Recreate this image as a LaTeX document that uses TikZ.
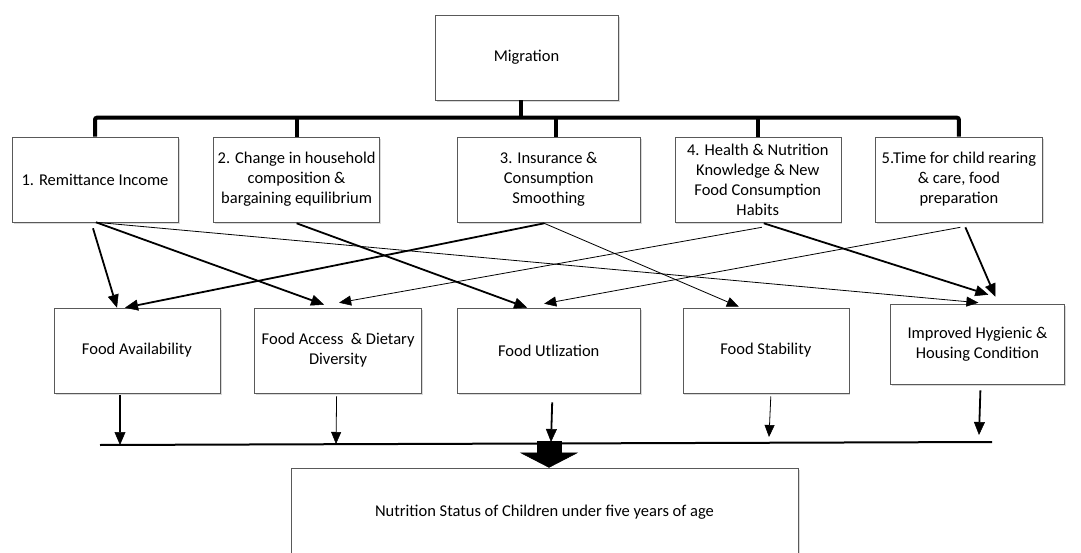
\documentclass[tikz,border=0pt]{standalone}
\usepackage{fontspec}
\setmainfont{Carlito}
\usetikzlibrary{positioning,calc,arrows.meta,shadows}

\tikzset{
  box/.style={draw=gray!70!black, line width=0.6pt, fill=white, align=center,
    minimum height=85pt, inner sep=1pt, font=\fontsize{16.5}{20}\selectfont,
    drop shadow={shadow xshift=1.5pt, shadow yshift=-2pt, opacity=0.3}},
  bar/.style={line width=4pt, rounded corners=2pt},
  busline/.style={line width=2pt},
  thinarrow/.style={line width=0.8pt, -{Triangle[length=12pt,width=10pt,line width=0.5pt]}},
  thickarrow/.style={line width=1.8pt, -{Triangle[length=13pt,width=11pt,line width=0.5pt]}},
  bigarrow/.style={line width=25pt, -{Triangle[length=15pt,width=58pt,line width=0.5pt]}},
}

\begin{document}
\begin{tikzpicture}[x=1pt, y=-1pt]
	\useasboundingbox (0,0) rectangle (1081,553);
	% Define nodes
	\node[box, minimum width=183pt] (mig) at (526.5,57.5) {Migration};
	\node[box, minimum width=166pt] (r1) at (95,179.5) {1. Remittance Income};
	\node[box, minimum width=166pt, right=35pt of r1] (r2) {2. Change in household\\composition \&\\bargaining equilibrium};
	\node[box, minimum width=183pt, right=77pt of r2] (r3) {3. Insurance \&\\Consumption\\Smoothing};
	\node[box, minimum width=166pt, right=34pt of r3] (r4) {4. Health \& Nutrition\\Knowledge \& New\\Food Consumption\\Habits};
	\node[box, minimum width=167pt, right=34pt of r4] (r5) {5.Time for child rearing\\\& care, food\\preparation};
	\node[box, minimum width=166pt] (fa) at (137,350.5) {Food Availability};
	\node[box, minimum width=167pt, right=34pt of fa] (fad) {Food Access~~\& Dietary\\Diversity};
	\node[box, minimum width=183pt, right=35pt of fad] (fu) {Food Utlization};
	\node[box, minimum width=166pt, right=42pt of fu] (fs) {Food Stability};
	\node[box, minimum width=174pt, minimum height=80pt, right=41pt of fs, yshift=6.5pt] (ih) {Improved Hygienic \&\\Housing Condition};
	\node[box, minimum width=507pt, minimum height=88pt] (nut) at (544.5,512) {Nutrition Status of Children under five years of age};
	% Bus points
	\coordinate (busL) at (100,445);
	\coordinate (busR) at (992,442);
	\coordinate (faB) at (120,445);
	\coordinate (fadB) at (336,444);
	\coordinate (fuB) at (551,442);
	\coordinate (fsB) at (769,437);
	\coordinate (ihB) at (979,435);
	\coordinate (hub) at (549,441);
	% Migration to channels
	\draw[bar] (r1.north) -- ++(0,-19) -| (r5.north);
	\draw[bar] ($(mig.south)+(-6,0)$) -- ++(0,18);
	\draw[bar] (r2.north) -- ++(0,-19);
	\draw[bar] ($(r3.north)+(7.5,0)$) -- ++(0,-19);
	\draw[bar] (r4.north) -- ++(0,-19);
	% Connect the nodes
	\draw[thickarrow] ($(r1.south)+(-2,6)$) -- ($(fa.north)+(-20,0)$);
	\draw[thickarrow] ($(r1.south)+(1,0)$) -- ($(fad.north)+(-14,-3)$);
	\draw[thinarrow] ($(r1.south)+(1,0)$) -- ($(ih.north)+(1,-1)$);
	\draw[thickarrow] ($(r2.south)+(0,1)$) -- ($(fu.north)+(-21.5,0)$);
	\draw[thickarrow] ($(r3.south)+(-4.5,1)$) -- ($(fa.north)+(-12,0)$);
	\draw[thinarrow] ($(r3.south)+(-4.5,1)$) -- ($(fs.north)+(-27,-1)$);
	\draw[thinarrow] ($(r4.south)+(4,5)$) -- ($(fad.north)+(1,-5)$);
	\draw[thickarrow] ($(r4.south)+(6,1)$) -- ($(ih.north)+(11,-9)$);
	\draw[thinarrow] ($(r5.south)+(1.5,5)$) -- ($(fu.north)+(-4.5,-4)$);
	\draw[thickarrow] ($(r5.south)+(6.5,5)$) -- ($(ih.north)+(18,-7)$);
	% Outcomes to nutrition status
	\draw[thickarrow] ($(fa.south)+(-17,2)$) -- (faB);
	\draw[thinarrow] ($(fad.south)+(-1.5,3)$) -- (fadB);
	\draw[thickarrow] ($(fu.south)+(3.5,9)$) -- (fuB);
	\draw[thinarrow] ($(fs.south)+(5,3)$) -- (fsB);
	\draw[thickarrow] ($(ih.south)+(3,6)$) -- (ihB);
	\draw[busline] (busL) -- (busR);
	\draw[bigarrow] (hub) -- ($(nut.north)+(4.5,0)$);
\end{tikzpicture}
\end{document}
